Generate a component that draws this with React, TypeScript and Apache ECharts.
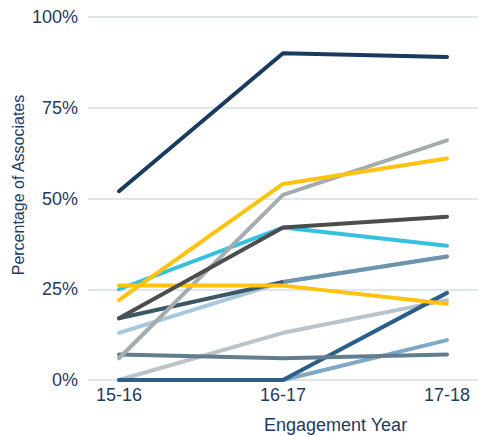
import React, { useEffect, useRef } from "react";
import * as echarts from "echarts";

const categories = ["15-16", "16-17", "17-18"];
const yTicks = [0, 25, 50, 75, 100];

const seriesNames = [
  "Light Gray", "Medium Blue", "Dark Blue", "Slate", "Light Blue", "Dark Teal",
  "Cyan", "Gray", "Yellow Flat", "Dark Gray", "Yellow", "Navy",
];
const lightGray = [0, 13, 22];
const mediumBlue = [0, 0, 11];
const darkBlue = [0, 0, 24];
const slate = [7, 6, 7];
const lightBlue = [13, 27, 34];
const darkTeal = [17, 27, 34];
const cyan = [25, 42, 37];
const gray = [6, 51, 66];
const yellowFlat = [26, 26, 21];
const darkGray = [17, 42, 45];
const yellow = [22, 54, 61];
const navy = [52, 90, 89];

const seriesValues = [lightGray, mediumBlue, darkBlue, slate, lightBlue, darkTeal, cyan, gray, yellowFlat, darkGray, yellow, navy];
const seriesColors = [
  "#BAC3C9", "#7EA8C8", "#2B5F8A", "#627D8E", "#A9C8DE", "#3A5865",
  "#34C1E0", "#A3ACAF", "#FFC20E", "#4D4D4F", "#FFC20E", "#1B3A5F",
];

const textColor = "#1F3A5F";
const font = "Liberation Sans, Arial, sans-serif";

export default function App() {
  const ref = useRef<HTMLDivElement>(null);
  useEffect(() => {
    if (!ref.current) return;
    const chart = echarts.init(ref.current, null, { renderer: "svg" });
    const tealIdx = seriesNames.indexOf("Dark Teal");
    chart.setOption({
      animation: false,
      grid: { left: 88, right: 2, top: 17, bottom: 55, containLabel: false },
      title: {
        text: "Engagement Year",
        left: 259,
        top: 411,
        textStyle: { color: textColor, fontSize: 18, fontWeight: "normal", fontFamily: font },
      },
      graphic: [
        {
          type: "text",
          x: 18,
          y: 185,
          rotation: Math.PI / 2,
          style: {
            text: "Percentage of Associates",
            fill: textColor,
            font: `16px ${font}`,
            textAlign: "center",
            textVerticalAlign: "middle",
          },
        },
      ],
      visualMap: {
        show: false,
        type: "piecewise",
        seriesIndex: tealIdx,
        dimension: 0,
        pieces: [
          { min: -0.5, max: 1, color: "#3A5865" },
          { min: 1, max: 2.5, color: "#6E93AB" },
        ],
      },
      xAxis: {
        type: "value",
        min: -0.189,
        max: 2.189,
        axisLine: { show: false },
        axisTick: { show: false },
        splitLine: { show: false },
        axisLabel: {
          customValues: [0, 1, 2],
          color: textColor,
          fontSize: 18,
          fontFamily: font,
          margin: 6,
          formatter: (v: number) => (Number.isInteger(v) ? categories[v] : ""),
        },
      },
      yAxis: {
        type: "value",
        min: 0,
        max: 100,
        interval: 25,
        axisLine: { show: false },
        axisTick: { show: false },
        splitLine: { lineStyle: { color: "#E1E6EA", width: 2 } },
        axisLabel: {
          color: textColor,
          fontSize: 18,
          fontFamily: font,
          margin: 10,
          formatter: (v: number) => (yTicks.includes(v) ? v + "%" : ""),
        },
      },
      series: seriesValues.map((vals, i) => {
        const isTeal = i === tealIdx;
        return {
          name: seriesNames[i],
          type: "line",
          data: vals.map((v, j) => [j, v]),
          symbol: "none",
          lineStyle: isTeal
            ? { width: 4, cap: "round", join: "round" }
            : { color: seriesColors[i], width: 4, cap: "round", join: "round" },
          itemStyle: isTeal ? {} : { color: seriesColors[i] },
        };
      }),
    });
    return () => chart.dispose();
  }, []);
  return <div ref={ref} style={{ width: 480, height: 435, position: "absolute", left: 0, top: 0 }} />;
}
